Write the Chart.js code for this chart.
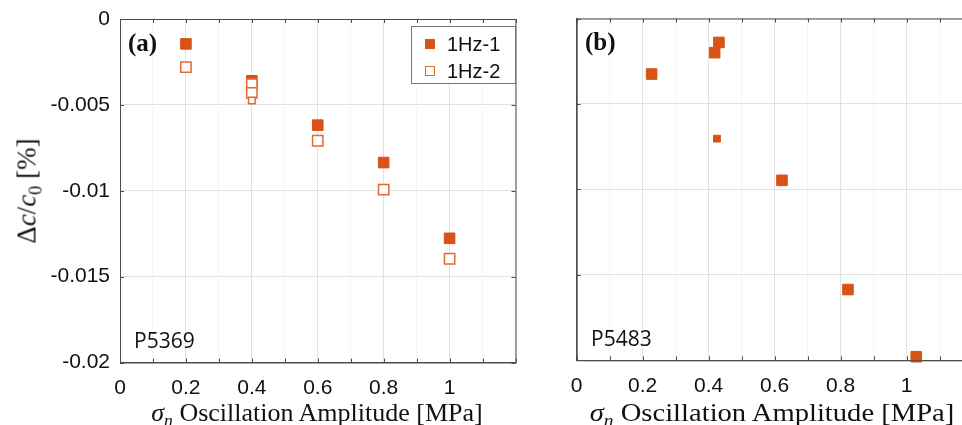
<!DOCTYPE html>
<html>
<head>
<meta charset="utf-8">
<script src="https://cdn.jsdelivr.net/npm/chart.js@4.4.0/dist/chart.umd.min.js"></script>
<style>
  html, body { margin: 0; padding: 0; background: #fff; }
  body { width: 962px; height: 425px; overflow: hidden; position: relative; }
  canvas { position: absolute; top: 0; }
  .txt { position: absolute; white-space: nowrap; color: #111; }
  .serif { font-family: "Liberation Serif", "Times New Roman", serif; }
  .tag { font-weight: bold; font-size: 25px; }
  .sample { font-family: "Open Sans", sans-serif; font-size: 21px; color: #111; }
  .xtitle { font-size: 26px; transform: translate(-50%, -50%); }
  .ytitle { font-size: 27px; transform: translate(-50%, -50%) rotate(-90deg); }
  sub { font-size: 0.68em; vertical-align: -0.3em; line-height: 0; }
  #legend { position: absolute; left: 411px; top: 26px; width: 105px; height: 58px;
            border: 1px solid #777; background: #fff; box-sizing: border-box; white-space: nowrap;
            font-family: "Liberation Sans", Arial, sans-serif; font-size: 20px; color: #111; }
  .lrow { position: absolute; left: 0; height: 24px; line-height: 24px; }
  .lrow span.m { position: absolute; left: 13px; top: 7px; width: 10px; height: 10px; box-sizing: border-box; }
  .lrow span.t { position: absolute; left: 35px; top: 0; }
</style>
</head>
<body>
<canvas id="chartA" width="540" height="425" style="left:0"></canvas>
<canvas id="chartB" width="440" height="425" style="left:560px"></canvas>

<div class="txt serif tag" style="left:128px; top:29px;">(a)</div>
<div class="txt serif tag" style="left:585px; top:28px;">(b)</div>
<div class="txt sample" style="left:134px; top:326px;">P5369</div>
<div class="txt sample" style="left:591px; top:324px;">P5483</div>
<div class="txt serif xtitle" style="left:317px; top:413px;"><i>σ<sub>n</sub></i> Oscillation Amplitude [MPa]</div>
<div class="txt serif xtitle" style="left:772px; top:413px; transform: translate(-50%, -50%) scaleX(1.1);"><i>σ<sub>n</sub></i> Oscillation Amplitude [MPa]</div>
<div class="txt serif ytitle" style="left:27px; top:191px;">Δ<i>c</i>/<i>c</i><sub>0</sub> [%]</div>

<div id="legend">
  <div class="lrow" style="top:5px;"><span class="m" style="background:#D95319;"></span><span class="t">1Hz-1</span></div>
  <div class="lrow" style="top:32px;"><span class="m" style="border:1.5px solid #E06A35;"></span><span class="t">1Hz-2</span></div>
</div>

<script>
// panel (a) P5369
const amplitudeA = [0.2, 0.4, 0.6, 0.8, 1.0];
const hz1A = [-0.00145, -0.0036, -0.00618, -0.00836, -0.01277];
const amplitudeA2 = [0.2, 0.4, 0.4, 0.4, 0.6, 0.8, 1.0];
const hz2A = [-0.0028, -0.0038, -0.0043, -0.00475, -0.00709, -0.00993, -0.01396];

// panel (b) P5483
const amplitudeB = [0.227, 0.418, 0.431, 0.425, 0.622, 0.822, 1.029];
const hz1B = [-0.00325, -0.0020, -0.0014, -0.00703, -0.00947, -0.01586, -0.01979];

const xTickLabels = ['0', '0.2', '0.4', '0.6', '0.8', '1'];
const yTickLabels = ['0', '-0.005', '-0.01', '-0.015', '-0.02'];

const ORANGE = '#D95319';
const ORANGE_EDGE = '#E06A35';
const TICK_FONT = { family: '"Liberation Sans", Arial, sans-serif', size: 21 };

function toPoints(xs, ys) {
  return xs.map((x, i) => ({ x, y: ys[i] }));
}

// MATLAB style box round the plot area, with short ticks pointing inside
const boxPlugin = {
  id: 'box',
  afterDraw(chart) {
    const { ctx, chartArea: a, scales } = chart;
    ctx.save();
    ctx.strokeStyle = '#4d4d4d';
    ctx.lineWidth = 1;
    ctx.strokeRect(a.left + 0.5, a.top + 0.5, a.right - a.left, a.bottom - a.top);
    ctx.beginPath();
    scales.x.ticks.forEach(t => {
      const px = Math.round(scales.x.getPixelForValue(t.value)) + 0.5;
      ctx.moveTo(px, a.top); ctx.lineTo(px, a.top + 4);
      ctx.moveTo(px, a.bottom); ctx.lineTo(px, a.bottom - 4);
    });
    scales.y.ticks.forEach(t => {
      const py = Math.round(scales.y.getPixelForValue(t.value)) + 0.5;
      ctx.moveTo(a.left, py); ctx.lineTo(a.left + 4, py);
      ctx.moveTo(a.right, py); ctx.lineTo(a.right - 4, py);
    });
    ctx.stroke();
    ctx.restore();
  }
};

function isMinor(c) {
  return c.tick && Math.round(c.tick.value * 10) % 2 === 1;
}

// no extra room for half labels, the plot area is set by the padding
function noLabelPadding(s) {
  s.paddingTop = 0;
  s.paddingBottom = 0;
  s.paddingLeft = 0;
  s.paddingRight = 0;
}

function makeScales(showYLabels, yWidth, xHeight) {
  return {
    x: {
      type: 'linear',
      min: 0,
      max: 1.2,
      afterFit: s => { s.height = xHeight; noLabelPadding(s); },
      afterBuildTicks: s => {
        s.ticks = [];
        for (let i = 0; i <= 12; i++) s.ticks.push({ value: i / 10 });
      },
      ticks: {
        autoSkip: false,
        maxRotation: 0,
        padding: 13,
        color: '#111',
        font: TICK_FONT,
        callback: v => {
          const k = Math.round(v * 10);
          return (k % 2 === 0 && k / 2 < xTickLabels.length) ? xTickLabels[k / 2] : '';
        }
      },
      grid: {
        drawTicks: false,
        color: c => isMinor(c) ? '#ececec' : '#e2e2e2',
        lineWidth: 1
      },
      border: {
        color: '#4d4d4d',
        dash: c => isMinor(c) ? [2, 2] : []
      }
    },
    y: {
      type: 'linear',
      min: -0.02,
      max: 0,
      afterFit: s => { s.width = yWidth; noLabelPadding(s); },
      ticks: {
        display: showYLabels,
        stepSize: 0.005,
        padding: 10,
        color: '#111',
        font: TICK_FONT,
        callback: v => yTickLabels[Math.round(-v / 0.005)]
      },
      grid: { drawTicks: false, color: '#e2e2e2' },
      border: { color: '#4d4d4d' }
    }
  };
}

const common = {
  responsive: false,
  animation: false,
  plugins: { legend: { display: false }, tooltip: { enabled: false } }
};

new Chart(document.getElementById('chartA'), {
  type: 'scatter',
  data: {
    datasets: [
      {
        label: '1Hz-2',
        data: toPoints(amplitudeA2, hz2A),
        pointStyle: 'rect',
        pointRadius: c => c.dataIndex === 3 ? 4.6 : 7.3,
        backgroundColor: '#ffffff',
        borderColor: ORANGE_EDGE,
        borderWidth: 1.5,
        order: 0,
        clip: false
      },
      {
        label: '1Hz-1',
        data: toPoints(amplitudeA, hz1A),
        pointStyle: 'rect',
        pointRadius: 7.5,
        backgroundColor: ORANGE,
        borderColor: ORANGE,
        borderWidth: 1,
        order: 1,
        clip: false
      }
    ]
  },
  options: {
    ...common,
    layout: { padding: { top: 19, right: 24.5, left: 0, bottom: 0 } },
    scales: makeScales(true, 120, 62.5)
  },
  plugins: [boxPlugin]
});

new Chart(document.getElementById('chartB'), {
  type: 'scatter',
  data: {
    datasets: [
      {
        label: '1Hz-1',
        data: toPoints(amplitudeB, hz1B),
        pointStyle: 'rect',
        pointRadius: c => c.dataIndex === 3 ? 4.8 : 7.5,
        backgroundColor: ORANGE,
        borderColor: ORANGE,
        borderWidth: 1,
        clip: false
      }
    ]
  },
  options: {
    ...common,
    layout: { padding: { top: 18.5, right: 27.3, left: 0, bottom: 0 } },
    scales: makeScales(false, 16.7, 64.7)
  },
  plugins: [boxPlugin]
});
</script>
</body>
</html>
